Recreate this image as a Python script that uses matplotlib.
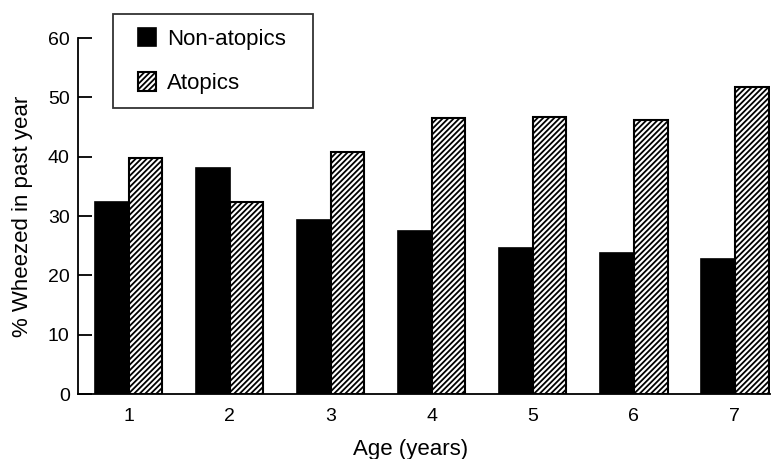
import matplotlib
matplotlib.use('Agg')
import matplotlib.pyplot as plt
from matplotlib.patches import Rectangle
from matplotlib.legend_handler import HandlerPatch, update_from_first_child
import numpy as np

plt.rcParams['font.family'] = ['Liberation Sans', 'DejaVu Sans']
plt.rcParams['hatch.linewidth'] = 1.3

ages = [1, 2, 3, 4, 5, 6, 7]
non_atopics = [32.3, 38.1, 29.4, 27.5, 24.6, 23.8, 22.7]
atopics = [39.8, 32.4, 40.8, 46.5, 46.7, 46.1, 51.7]

fig = plt.figure(figsize=(7.81, 4.59), dpi=100)
ax = fig.add_axes([0.0999, 0.1416, 0.8861, 0.7756])

x = np.array(ages)
w = 0.335
b1 = ax.bar(x - w/2, non_atopics, w, color='black', edgecolor='black', linewidth=1.2,
            label='Non-atopics')
b2 = ax.bar(x + w/2, atopics, w, color='white', edgecolor='black', linewidth=1.5,
            hatch='//////', label='Atopics')

ax.set_xlim(0.5, 7.35)
ax.set_ylim(0, 60)
ax.set_yticks(range(0, 61, 10))
ax.set_xticks(ages)
ax.spines['top'].set_visible(False)
ax.spines['right'].set_visible(False)
ax.spines['left'].set_linewidth(1.3)
ax.spines['bottom'].set_linewidth(1.3)
ax.tick_params(axis='y', direction='in', length=10, width=1.3, labelsize=14, pad=6)
ax.tick_params(axis='x', length=0, labelsize=14, pad=10)

ax.set_ylabel('% Wheezed in past year', fontsize=16, va='center')
ax.yaxis.set_label_coords(-0.08, 0.5)
ax.set_xlabel('Age (years)', fontsize=16, va='center')
ax.xaxis.set_label_coords(0.481, -0.157)


# square legend key sitting at the right end of a wider handle box
def square_key(legend, orig_handle, xdescent, ydescent, width, height, fontsize):
    side = height
    return Rectangle((width - side - xdescent, -ydescent), side, side)


handler = HandlerPatch(patch_func=square_key, update_func=update_from_first_child)
leg = fig.legend(loc='upper left',
                 bbox_to_anchor=(113/781, 1 - 104/459, 200/781, 90/459),
                 mode='expand', fontsize=16, frameon=True, fancybox=False,
                 edgecolor='black', handlelength=1.33, handleheight=0.9,
                 borderpad=0.62, labelspacing=1.02, handletextpad=0.5,
                 borderaxespad=0,
                 handler_map={type(b1): handler})
leg.get_frame().set_linewidth(1.3)

fig.savefig('out.png', dpi=100)
